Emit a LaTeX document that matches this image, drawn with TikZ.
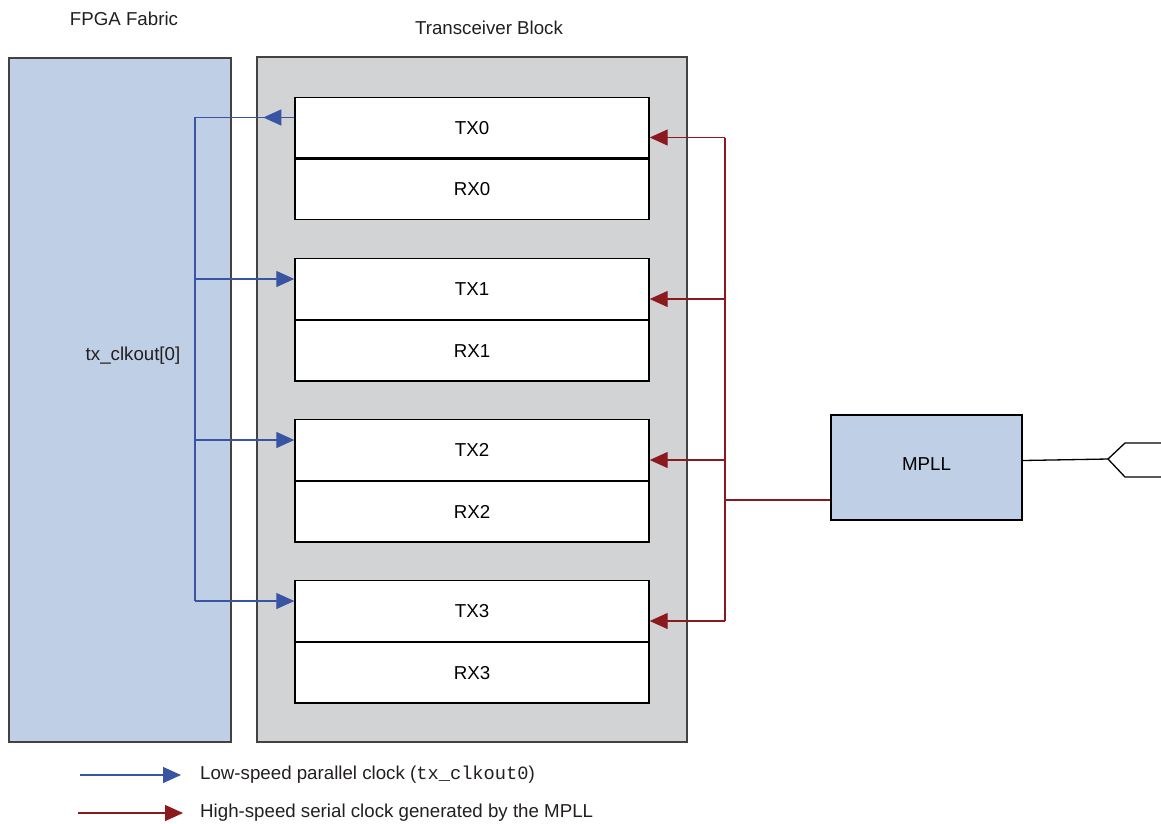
\documentclass[tikz,border=0pt]{standalone}
\usepackage{fontspec}
\setmainfont{Liberation Sans}
\setmonofont{Liberation Mono}
\usetikzlibrary{positioning}
\usetikzlibrary{arrows.meta}
\definecolor{fabric}{HTML}{BFCFE5}
\definecolor{xcvr}{HTML}{D2D3D5}
\definecolor{lowclk}{HTML}{3A54A4}
\definecolor{highclk}{HTML}{8B1A1E}
\definecolor{ink}{HTML}{231F20}
\tikzset{>={Triangle[length=18pt,width=16pt]}}
\tikzset{region/.style={draw=ink!85,line width=1.5pt}}
\tikzset{lane/.style={draw=black,fill=white,line width=1.4pt,minimum width=354pt,minimum height=60.5pt,inner sep=0pt,text depth=-2pt}}
\tikzset{lo/.style={lowclk,line width=1.3pt}}
\tikzset{hi/.style={highclk,line width=1.3pt}}
\tikzset{lbl/.style={text=ink,inner sep=0pt}}

\begin{document}
\begin{tikzpicture}[x=1pt,y=-1pt,font=\fontsize{18.7}{22}\selectfont]
    \useasboundingbox (0,0) rectangle (1161,823);

    \node[region,fill=fabric,minimum width=222pt,minimum height=684pt] (fpga) at (120,400) {};
    \node[region,fill=xcvr,minimum width=430pt,minimum height=685pt] (xblk) at (472,399.5) {};
    \node[lbl] (fpgalbl) at (124,19) {FPGA Fabric};
    \node[lbl] (xblklbl) at (489,28) {Transceiver Block};
    \node[lbl] (clklbl) at (133,356) {tx\_clkout[0]};

    \node[lane] (TX0) at (472,127.5) {TX0};
    \node[lane] (RX0) [below=0pt of TX0] {RX0};
    \node[lane] (TX1) at (472,289) {TX1};
    \node[lane] (RX1) [below=0pt of TX1] {RX1};
    \node[lane] (TX2) at (472,450) {TX2};
    \node[lane] (RX2) [below=0pt of TX2] {RX2};
    \node[lane] (TX3) at (472,611) {TX3};
    \node[lane] (RX3) [below=0pt of TX3] {RX3};

    \node[draw=black,fill=fabric,line width=1.5pt,minimum width=191pt,minimum height=105pt] (MPLL) at (926.5,467.5) {\raisebox{6pt}{MPLL}};

    \coordinate (lobus) at (195,0);
    \coordinate (hibus) at (725,0);
    \coordinate (pin) at (1108,459);

    \draw[lo,->] ([yshift=10pt]TX0.west) -- ++(-31,0);
    \draw[lo] ([yshift=10pt]TX0.west) -- ([yshift=10pt]TX0.west -| lobus)
     -- ([yshift=10pt]TX3.west -| lobus);
    \foreach \t in {TX1,TX2,TX3}
        \draw[lo,->] ([yshift=10pt]\t.west -| lobus) -- ([yshift=10pt]\t.west);

    \draw[hi] ([yshift=-10pt]TX0.east -| hibus) -- ([yshift=-10pt]TX3.east -| hibus);
    \foreach \t in {TX0,TX1,TX2,TX3}
        \draw[hi,->] ([yshift=-10pt]\t.east -| hibus) -- ([yshift=-10pt]\t.east);
    \draw[hi] ([yshift=-32.5pt]MPLL.west) -- ([yshift=-32.5pt]MPLL.west -| hibus);

    \draw[line width=1.3pt] ([yshift=7pt]MPLL.east) -- (pin);
    \draw[line width=1.3pt] (1170,443) -- (1125,443) -- (pin) -- (1125,477) -- (1170,477);

    \node[lbl,anchor=west] (lotxt) at (200,775) {Low-speed parallel clock ({\ttfamily tx\_clkout0})};
    \node[lbl,anchor=west] (hitxt) at (200,813) {High-speed serial clock generated by the MPLL};
    \draw[lo,->] ([xshift=-120pt]lotxt.west) -- ([xshift=-19pt]lotxt.west);
    \draw[hi,->] ([xshift=-122pt]hitxt.west) -- ([xshift=-17pt]hitxt.west);
\end{tikzpicture}
\end{document}
